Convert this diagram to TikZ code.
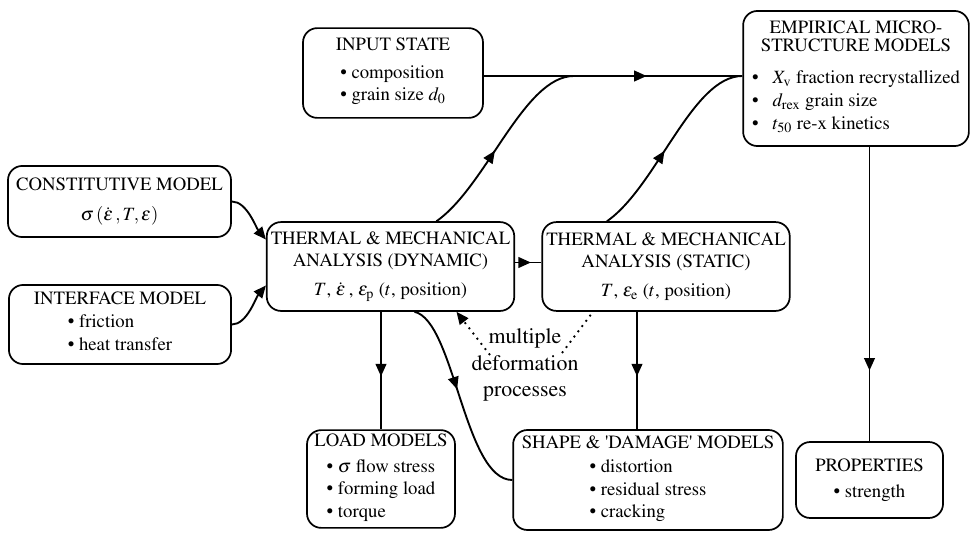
\documentclass[12pt,tikz,border=0pt]{standalone}
\usepackage[T1]{fontenc}
\usepackage{mathptmx}
\usetikzlibrary{arrows.meta}
\usetikzlibrary{calc}
\usetikzlibrary{decorations.markings}
\newcommand{\edot}{\dot{\varepsilon}}
\tikzset{%
  >={Triangle[width=2.4mm,length=2.8mm]},
  % Specifications for style of nodes:
         base/.style = {rectangle, rounded corners=0.32cm, draw=black,
                        line width=1.1pt, align=center, inner sep=2pt,
                        font=\fontsize{12}{14.5}\selectfont},
        model/.style = {base, minimum width=5.0cm, minimum height=1.7cm},
     analysis/.style = {base, minimum width=5.57cm, minimum height=2.0cm},
       output/.style = {base, minimum height=2.2cm},
  % Specifications for style of connectors:
         link/.style = {line width=1.2pt},
       dotted link/.style = {link, dash pattern=on 1.2pt off 3pt},
     midarrow/.style = {link, postaction={decorate},
                        decoration={markings, mark=at position #1 with {\arrow{>}}}},
}

\begin{document}
\begin{tikzpicture}[x=0.0225cm, y=-0.0225cm]
  \useasboundingbox (0,0) rectangle (973,533);
  % Specification of nodes (position, etc.)
  \node (input)    [base, minimum width=4.05cm, minimum height=2.02cm] at (393,73)
    {INPUT STATE\\[3pt]\begin{tabular}[t]{@{}l@{}}\textbullet\ composition\\ \textbullet\ grain size $d_0$\end{tabular}};
  \node (empirical) [base, minimum width=5.08cm, minimum height=3.04cm] at (856,78.5)
    {EMPIRICAL MICRO-\\[-3pt]STRUCTURE MODELS\\[6pt]\begin{tabular}[t]{@{}l@{\hspace{9pt}}l@{}}
      \textbullet & $X_{\mathrm{v}}$ fraction recrystallized\\
      \textbullet & $d_{\mathrm{rex}}$ grain size\\
      \textbullet & $t_{50}$ re-x kinetics\end{tabular}};
  \node (constitutive) [model, minimum width=5.02cm, minimum height=1.6cm] at (119.5,201.5)
    {CONSTITUTIVE MODEL\\[4.5pt]$\sigma\,(\edot\,,T,\varepsilon)$};
  \node (interface) [model, minimum height=1.78cm] at (120,324.5)
    {INTERFACE MODEL\\\begin{tabular}[t]{@{}l@{}}\textbullet\ friction\\ \textbullet\ heat transfer\end{tabular}};
  \node (dynamic)  [analysis] at (390.5,266.5)
    {THERMAL \& MECHANICAL\\ANALYSIS (DYNAMIC)\\[4pt]$T$, $\edot$\,, $\varepsilon_{\mathrm{p}}$ ($t$, position)};
  \node (static)   [analysis] at (666,266.5)
    {THERMAL \& MECHANICAL\\ANALYSIS (STATIC)\\[4pt]$T$, $\varepsilon_{\mathrm{e}}$ ($t$, position)};
  \node (load)     [output, minimum width=3.33cm] at (381,479)
    {LOAD MODELS\\[2pt]\begin{tabular}[t]{@{}l@{}}\textbullet\ $\sigma$ flow stress\\ \textbullet\ forming load\\ \textbullet\ torque\end{tabular}};
  \node (shape)    [output, minimum width=6.07cm, minimum height=2.25cm] at (648,480)
    {SHAPE \& \textquotesingle DAMAGE\textquotesingle\ MODELS\\[1pt]\begin{tabular}[t]{@{}l@{}}\textbullet\ distortion\\ \textbullet\ residual stress\\ \textbullet\ cracking\end{tabular}};
  \node (properties) [base, minimum width=3.31cm, minimum height=1.71cm] at (869.5,480)
    {PROPERTIES\\[2pt]\textbullet\ strength};
  \node (note)     [font=\fontsize{14}{17}\selectfont, align=center, inner sep=0pt] at (525,365)
    {multiple\\deformation\\processes};

  % Joints on the line into the microstructure models
  \coordinate (inJoin) at ($(input.east)+(0,3)$);
  \coordinate (mergeA) at ($(inJoin)+(90,0)$);
  \coordinate (mergeB) at (inJoin -| empirical.west);
  \coordinate (stOut)  at ($(shape.north)+(-11,0)$);

  % Specification of lines between nodes specified above
  \draw[midarrow=0.63] (inJoin) -- (mergeB);
  \draw[midarrow=0.45] ($(dynamic.north)+(46,0)$) .. controls +(50,-35) and +(-50,0) .. (mergeA);
  \draw[midarrow=0.45] ($(static.north)+(-59,0)$) .. controls +(50,-35) and +(-50,0) .. (mergeB);

  \draw[link,->] (constitutive.east) .. controls +(15,0) and +(-10,-12) .. ($(dynamic.west)+(0,-27)$);
  \draw[link,->] (interface.east) .. controls +(15,0) and +(-10,12) .. ($(dynamic.west)+(0,19)$);

  \draw[midarrow=0.6] ($(dynamic.east)+(0,-4)$) -- ($(static.west)+(0,-4)$);
  \draw[midarrow=0.55] (load.north |- dynamic.south) -- (load.north);
  \draw[midarrow=0.55] (stOut |- static.south) -- (stOut);
  \draw[midarrow=0.76] (properties.north |- empirical.south) -- (properties.north);
  \draw[midarrow=0.45] ($(dynamic.south)+(24,0)$) .. controls +(40,9) and +(-48,0) .. (shape.west);

  \draw[dotted link,->] ($(note.center)+(-35,-10)$) -- ($(dynamic.south)+(66,0)$);
  \draw[dotted link] ($(note.center)+(37,-12)$) -- ($(static.south)+(-73,0)$);
\end{tikzpicture}
\end{document}
